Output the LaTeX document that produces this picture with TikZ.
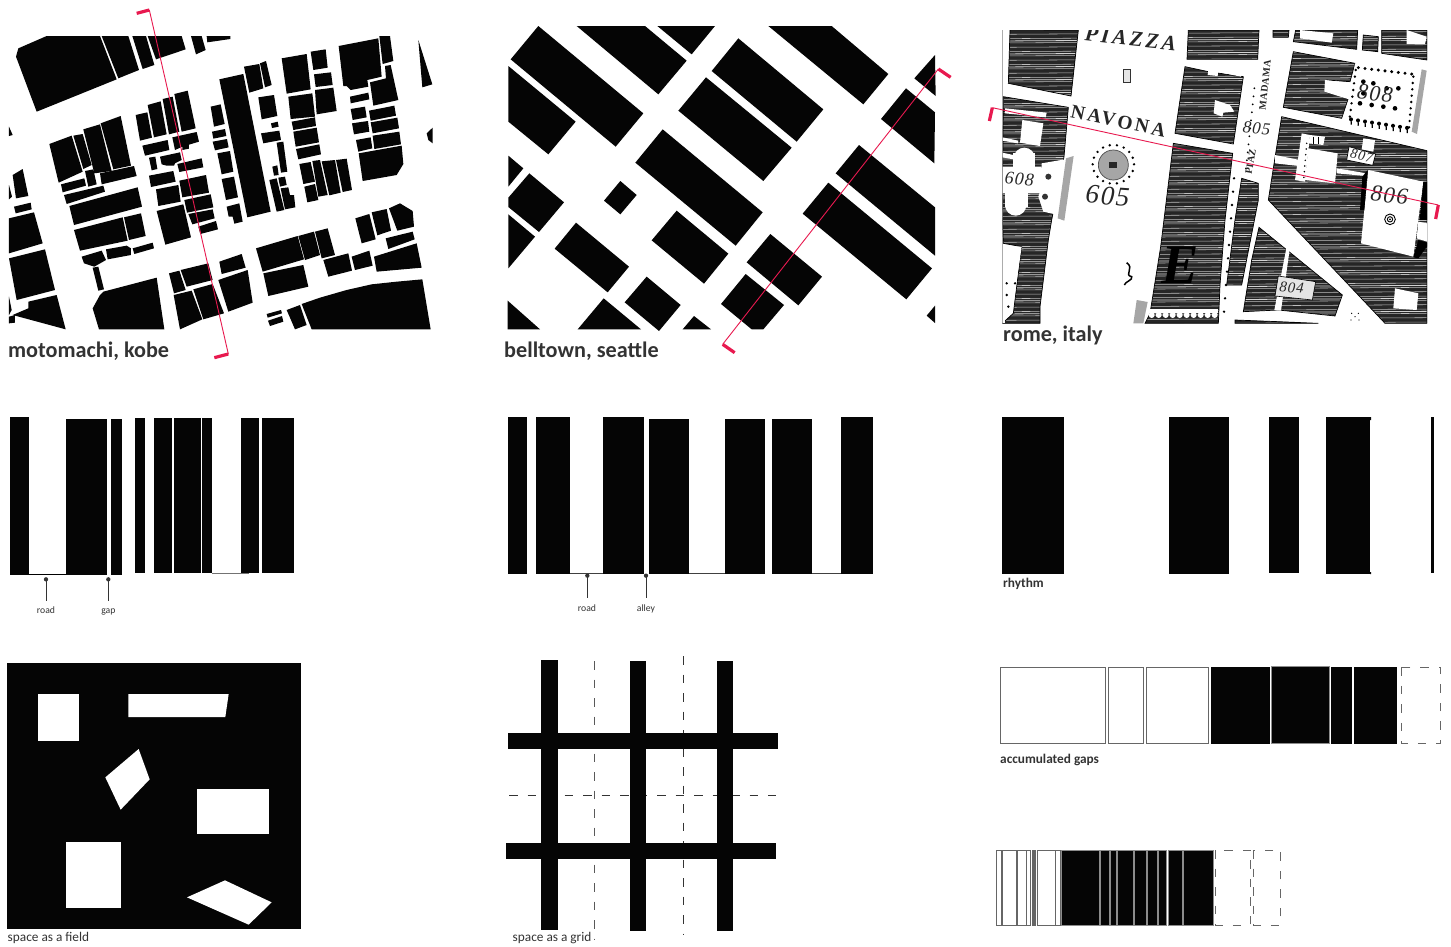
\documentclass[tikz,border=0pt]{standalone}
\usepackage{fontspec}
\setmainfont{Carlito}
\newfontfamily\mapfont[LetterSpace=14]{Liberation Serif}
\newfontfamily\mapnum[LetterSpace=6]{Liberation Serif}
\newfontfamily\mapplain{Liberation Serif}
\definecolor{blk}{HTML}{050505}
\definecolor{redline}{HTML}{E8194F}
\definecolor{labelgrey}{HTML}{333333}
\definecolor{mapdark}{HTML}{262626}
\newcommand\pg[1]{\fill[blk] plot coordinates {#1} -- cycle;}
\newcommand\wg[1]{\fill[white] plot coordinates {#1} -- cycle;}
\tikzset{
  titletext/.style={anchor=base west,font=\fontsize{22.2}{24}\selectfont\bfseries,text=labelgrey,inner sep=0pt},
  captext/.style={anchor=base west,font=\fontsize{13.3}{15}\selectfont,text=labelgrey,inner sep=0pt},
  capbold/.style={anchor=base west,font=\fontsize{13.3}{15}\selectfont\bfseries,text=labelgrey,inner sep=0pt},
  tinytext/.style={anchor=base,font=\fontsize{9.7}{11}\selectfont,text=labelgrey,inner sep=0pt},
  zoomA/.style={x=0.33333pt,y=-0.33333pt},
  secline/.style={draw=redline,line width=0.9pt},
  sectick/.style={draw=redline,line width=3.2pt},
  stemline/.style={draw=labelgrey,line width=0.8pt},
  gapbox/.style={draw=black!60,line width=1pt,fill=white},
  blackbar/.style={fill=blk,draw=black!45,line width=0.5pt},
  dashbox/.style={draw=black!60,line width=0.9pt,dash pattern=on 8.5pt off 10pt},
  griddash/.style={draw=black!65,line width=0.9pt,dash pattern=on 8.7pt off 9.8pt},
  maptext/.style={inner sep=0pt,text=black!85},
}
\begin{document}
\begin{tikzpicture}[x=1pt,y=-1pt]
\useasboundingbox (0,0) rectangle (1451,946);
\fill[white] (0,0) rectangle (1451,946);

% ---------- motomachi
\begin{scope}[shift={(0,0)},zoomA]
\pg{(140,108)(300,108)(350,238)(110,335)(48,170)(55,145)}
\pg{(305,108)(385,108)(417,210)(355,235)}
\pg{(397,108)(438,108)(463,195)(428,207)}
\pg{(443,108)(545,108)(557,148)(468,178)}
\pg{(573,108)(605,108)(617,150)(588,163)}
\pg{(620,108)(691,108)(691,117)(622,127)}
\pg{(1255,120)(1297,253)(1267,262)}
\pg{(1298,383)(1280,400)(1285,420)(1298,430)}
\pg{(27,380)(38,405)(27,408)}
\pg{(845,175)(920,162)(932,268)(860,281)}
\pg{(932,155)(977,148)(983,203)(940,210)}
\pg{(942,223)(993,217)(998,255)(947,261)}
\pg{(945,270)(1000,263)(1010,333)(950,343)}
\pg{(865,290)(937,280)(945,350)(872,357)}
\pg{(875,365)(945,352)(948,378)(880,390)}
\pg{(880,395)(950,383)(957,427)(887,440)}
\pg{(888,447)(958,433)(963,463)(895,478)}
\pg{(1016,138)(1135,115)(1145,230)(1102,240)(1105,260)(1052,270)(1040,258)(1030,258)}
\pg{(1138,108)(1170,108)(1180,183)(1148,192)}
\pg{(1155,198)(1172,195)(1195,300)(1120,317)(1110,247)(1158,235)}
\pg{(1050,290)(1105,278)(1108,298)(1052,310)}
\pg{(1052,327)(1095,320)(1100,352)(1058,360)}
\pg{(1107,332)(1183,317)(1188,347)(1112,362)}
\pg{(1056,370)(1104,363)(1108,395)(1062,403)}
\pg{(1112,367)(1192,353)(1197,385)(1118,400)}
\pg{(1068,420)(1112,412)(1117,445)(1075,455)}
\pg{(1118,407)(1198,395)(1203,433)(1123,447)}
\pg{(1076,460)(1205,437)(1210,492)(1190,525)(1088,543)}
\pg{(658,238)(730,222)(812,635)(742,652)}
\pg{(732,200)(778,192)(790,265)(748,278)}
\pg{(780,190)(798,183)(815,255)(795,262)}
\pg{(775,292)(822,285)(832,348)(785,358)}
\pg{(813,370)(833,365)(836,380)(816,384)}
\pg{(783,400)(838,392)(843,420)(790,430)}
\pg{(830,428)(850,425)(862,515)(843,518)}
\pg{(817,500)(832,496)(836,525)(822,527)}
\pg{(808,540)(830,535)(853,630)(830,635)}
\pg{(835,533)(855,530)(860,555)(840,560)}
\pg{(842,565)(865,562)(870,585)(882,585)(886,622)(855,628)}
\pg{(898,492)(932,486)(945,545)(910,552)}
\pg{(937,483)(960,480)(983,585)(955,590)}
\pg{(965,484)(1005,480)(1022,578)(988,586)}
\pg{(1008,480)(1040,476)(1056,570)(1028,576)}
\pg{(913,560)(945,552)(955,600)(922,607)}
\pg{(632,320)(662,313)(674,372)(642,380)}
\pg{(636,395)(675,387)(679,408)(640,416)}
\pg{(638,425)(681,417)(686,442)(645,451)}
\pg{(652,460)(690,453)(700,515)(665,523)}
\pg{(665,537)(702,530)(714,592)(678,600)}
\pg{(680,620)(718,610)(728,665)(703,671)(698,650)(686,650)}
\pg{(407,345)(442,337)(456,413)(420,422)}
\pg{(443,315)(482,304)(500,403)(462,412)}
\pg{(488,297)(518,290)(538,395)(507,403)}
\pg{(523,282)(563,272)(587,385)(545,395)}
\pg{(517,412)(590,396)(597,425)(567,434)(567,446)(547,450)(547,440)(525,450)}
\pg{(427,437)(503,420)(508,450)(435,467)}
\pg{(447,473)(466,470)(472,507)(455,511)}
\pg{(480,470)(540,457)(545,480)(525,490)(522,497)(500,497)(485,493)}
\pg{(532,492)(605,475)(610,502)(538,516)}
\pg{(447,527)(520,513)(527,545)(453,561)}
\pg{(468,568)(535,555)(542,605)(475,618)}
\pg{(538,542)(618,525)(627,578)(547,592)}
\pg{(553,600)(632,583)(640,622)(561,638)}
\pg{(565,642)(638,628)(644,655)(577,673)}
\pg{(595,680)(648,663)(654,688)(601,702)}
\pg{(470,633)(550,613)(573,712)(496,734)}
\pg{(148,432)(215,407)(248,515)(176,548)}
\pg{(220,407)(248,402)(275,495)(250,507)}
\pg{(250,388)(300,373)(335,513)(283,520)}
\pg{(302,370)(362,348)(393,497)(340,508)}
\pg{(255,513)(280,508)(290,553)(265,560)}
\pg{(300,520)(402,498)(410,528)(305,553)}
\pg{(183,553)(253,535)(258,557)(188,577)}
\pg{(192,585)(310,557)(315,575)(200,612)}
\pg{(208,618)(413,562)(426,620)(222,675)}
\pg{(222,690)(368,652)(383,722)(240,752)}
\pg{(372,652)(423,640)(437,708)(387,720)}
\pg{(245,770)(305,752)(318,780)(283,800)(252,790)}
\pg{(318,748)(380,737)(393,745)(393,765)(323,778)}
\pg{(398,745)(458,728)(462,745)(403,762)}
\pg{(278,803)(295,800)(312,868)(295,872)}
\pg{(38,525)(68,507)(85,588)(48,595)}
\pg{(27,555)(36,590)(27,598)}
\pg{(42,620)(92,608)(95,628)(47,640)}
\pg{(27,655)(102,637)(128,730)(27,760)}
\pg{(27,775)(135,748)(165,870)(50,900)}
\pg{(85,905)(170,885)(197,988)(38,945)(85,925)}
\pg{(27,890)(35,930)(27,945)}
\pg{(27,950)(45,945)(45,968)(27,970)}
\pg{(310,875)(470,833)(493,988)(297,988)(278,925)(300,885)}
\pg{(507,820)(538,812)(557,870)(522,880)}
\pg{(542,810)(625,790)(638,840)(560,860)}
\pg{(521,885)(575,872)(607,958)(540,988)}
\pg{(580,868)(638,852)(672,940)(610,958)}
\pg{(658,785)(725,762)(737,803)(665,822)}
\pg{(655,840)(743,810)(758,908)(685,935)}
\pg{(768,745)(893,708)(912,778)(788,815)}
\pg{(895,708)(942,695)(960,765)(915,780)}
\pg{(945,695)(983,685)(1005,765)(965,775)}
\pg{(790,820)(910,795)(925,860)(805,888)}
\pg{(970,780)(1045,760)(1056,812)(985,830)}
\pg{(1055,770)(1108,752)(1118,797)(1065,810)}
\pg{(1066,655)(1108,642)(1127,718)(1085,730)}
\pg{(1115,637)(1160,627)(1173,692)(1132,706)}
\pg{(1167,625)(1200,610)(1238,633)(1242,680)(1192,692)}
\pg{(1157,715)(1238,695)(1244,718)(1165,747)}
\pg{(1122,770)(1250,730)(1265,803)(1130,815)}
\pg{(800,942)(843,930)(846,940)(803,953)}
\pg{(804,962)(846,948)(850,965)(810,978)}
\pg{(860,930)(900,915)(920,975)(885,988)}
\pg{(905,912)(960,893)(1040,870)(1115,853)(1190,845)(1267,838)(1292,988)(935,988)}
\coordinate (mtop) at (448,30);
\coordinate (mbot) at (685,1062);
\coordinate (mtopt) at (410,40);
\coordinate (mbott) at (643,1073);
\draw[secline] (mtop) -- (mbot);
\draw[sectick] (mtopt) -- (mtop);
\draw[sectick] (mbott) -- (mbot);
\end{scope}
\node[titletext] (tmoto) at (8,357) {motomachi, kobe};

% ---------- belltown
\begin{scope}[shift={(495,15)},zoomA]
\pg{(130,33)(445,295)(362,395)(47,133)}
\pg{(245,33)(450,33)(575,137)(490,238)}
\pg{(487,33)(660,33)(590,118)}
\pg{(40,153)(242,320)(160,418)(40,320)}
\pg{(730,70)(985,283)(905,380)(650,168)}
\pg{(633,187)(890,398)(805,498)(550,287)}
\pg{(820,33)(1010,33)(1180,177)(1105,268)}
\pg{(1320,120)(1322,243)(1258,190)}
\pg{(1233,220)(1320,292)(1318,445)(1158,312)}
\pg{(503,343)(803,592)(722,692)(421,443)}
\pg{(1092,390)(1320,577)(1320,722)(1022,475)}
\pg{(1000,503)(1311,760)(1234,853)(923,596)}
\pg{(40,422)(85,460)(40,515)}
\pg{(103,475)(207,562)(132,651)(40,576)(40,548)}
\pg{(40,598)(120,665)(40,760)}
\pg{(376,498)(425,540)(376,598)(327,557)}
\pg{(545,587)(700,716)(627,806)(470,676)}
\pg{(243,623)(402,755)(338,832)(179,701)}
\pg{(826,657)(981,785)(910,871)(755,742)}
\pg{(455,785)(557,870)(492,948)(389,862)}
\pg{(752,777)(867,870)(805,943)(770,943)(678,867)}
\pg{(38,857)(135,943)(38,943)}
\pg{(326,850)(438,943)(248,943)}
\pg{(597,903)(648,943)(563,943)}
\pg{(1320,872)(1320,924)(1295,902)}
\coordinate (btop) at (1330,162);
\coordinate (bbot) at (683,988);
\coordinate (btopt) at (1367,187);
\coordinate (bbott) at (719,1013);
\draw[secline] (btop) -- (bbot);
\draw[sectick] (btopt) -- (btop);
\draw[sectick] (bbott) -- (bbot);
\end{scope}
\node[titletext] (tbell) at (504,357) {belltown, seattle};

% ---------- rome map
\begin{scope}[shift={(985,20)},zoomA]
\begin{scope}
\clip (52,30) rectangle (1326,910);
\def\darkregions{
 (75,30)--(280,30)--(258,228)--(70,190)--cycle
 (55,230)--(250,262)--(237,410)--(200,600)--(190,660)--(165,860)--(165,910)--(52,910)--(85,880)--(110,680)--(55,670)--(52,590)--cycle
 (610,30)--(822,30)--(818,118)--(606,118)--cycle
 (600,140)--(670,155)--(775,170)--(745,372)--(570,340)--cycle
 (565,370)--(743,400)--(720,600)--(705,795)--(700,910)--(480,910)--(495,880)--(527,680)--cycle
 (770,475)--(820,490)--(820,540)--(770,795)--(725,795)--(750,600)--cycle
 (925,95)--(1110,130)--(1095,185)--(1025,180)--(1020,215)--(1090,235)--(1070,295)--(895,262)--cycle
 (932,30)--(1118,30)--(1115,88)--(925,65)--cycle
 (1135,45)--(1180,50)--(1178,95)--(1132,90)--cycle
 (1190,30)--(1326,30)--(1326,120)--(1190,100)--cycle
 (864,30)--(912,30)--(910,52)--(864,52)--cycle
 (890,290)--(1326,392)--(1326,910)--(1200,910)--(850,540)--(872,400)--cycle
 (822,622)--(1072,825)--(1050,888)--(880,870)--(775,875)--(800,720)--cycle
 (750,900)--(880,905)--(1000,910)--(750,910)--cycle
}
\fill[mapdark] \darkregions;
\begin{scope}
\clip \darkregions;
\foreach \y in {26,39,...,920} \draw[white,line width=0.55pt,opacity=.7] (40,\y+4) -- (1340,\y-4);
\foreach \y in {59,98,...,920} \draw[white,line width=0.8pt,opacity=.8] (40,\y+4) -- (1340,\y-4);
\end{scope}
\draw[black,line width=0.7pt] \darkregions;
% white overlays
\wg{(945,30)(1045,40)(1040,68)(945,55)}
\wg{(1265,30)(1325,50)(1320,72)(1265,72)}
\wg{(600,122)(670,135)(770,160)(768,170)(670,150)(600,135)}
\wg{(672,128)(702,130)(698,168)(668,165)}
\wg{(690,240)(735,255)(748,275)(715,278)(712,290)(686,280)}
\wg{(60,265)(185,278)(182,292)(60,280)}
\wg{(112,300)(175,310)(165,378)(105,368)}
\wg{(52,352)(100,362)(98,370)(52,362)}
\wg{(52,398)(85,405)(85,418)(52,412)}
\fill[white] (118,415) circle[radius=32] (92,555) circle[radius=32];
\wg{(52,440)(170,440)(175,520)(52,520)}
\wg{(85,400)(150,400)(150,450)(85,450)}
\wg{(60,510)(130,510)(130,560)(60,560)}
\wg{(170,430)(240,418)(220,585)(175,575)(160,530)(170,500)}
\fill[black!80] (190,470) circle[radius=9] (180,530) circle[radius=9];
\fill[black!35] (243,415) -- (266,408) -- (238,602) -- (218,595) -- cycle;
\wg{(52,680)(110,680)(85,850)(52,850)}
\wg{(52,880)(60,880)(60,910)(52,910)}
\wg{(1110,130)(1295,155)(1270,335)(1085,305)}
\wg{(1020,180)(1100,190)(1092,238)(1018,215)}
\fill[black!35] (1310,148) -- (1325,152) -- (1296,342) -- (1280,335) -- cycle;
\foreach \i in {0,...,8} \fill[black] ({1098+\i*21},{298+\i*3.2}) circle[radius=6];
\foreach \i in {0,...,8} \draw[black,line width=1.2pt] ({1098+\i*21},{298+\i*3.2}) -- +(1,16);
\foreach \i in {0,...,8} \fill[black] ({1120+\i*20},{143+\i*2.4}) circle[radius=5];
\foreach \i in {0,...,8} \fill[black] ({1285-\i*1.6},{170+\i*19}) circle[radius=4];
\foreach \i in {0,...,7} \fill[black] ({1112-\i*2.5},{150+\i*20}) circle[radius=4];
\foreach \p in {(1135,185),(1165,190),(1205,205),(1240,205),(1125,250),(1160,255),(1195,260),(1230,265),(1135,220)}
  \fill[black] \p circle[radius=7];
\wg{(970,385)(1058,400)(1050,490)(960,480)}
\wg{(950,340)(975,345)(960,485)(930,480)}
\foreach \i in {0,...,6} \fill[black] ({965-\i*1.4+0},{370+\i*17}) circle[radius=2.5];
\wg{(975,345)(1020,350)(1015,375)(970,370)}
\draw[black,line width=0.6pt] (985,350) -- (985,372) (1000,350) -- (1000,372);
\wg{(870,405)(945,420)(942,438)(870,430)}
\wg{(1055,445)(1145,460)(1142,468)(1055,460)}
\wg{(1135,355)(1170,360)(1165,395)(1130,388)}
\wg{(1150,450)(1315,485)(1285,710)(1128,670)}
\fill[black] (1132,470) -- (1148,450) -- (1138,570) -- (1125,570) -- cycle;
\fill[black] (1315,485) -- (1326,485) -- (1326,600) -- (1304,600) -- cycle;
\wg{(1300,605)(1326,610)(1326,665)(1295,655)}
\fill[black] (1285,712) -- (1300,660) -- (1326,668) -- (1326,680) -- (1300,715) -- cycle;
\draw[black,line width=0.9pt,fill=white] (1215,598) circle[radius=16];
\draw[black,line width=0.9pt,fill=white] (1215,598) circle[radius=8];
\fill[black] (1215,598) circle[radius=3];
\wg{(1230,805)(1300,820)(1295,870)(1225,865)}
\wg{(905,680)(915,682)(888,872)(868,870)}
\draw[black,line width=0.6pt,fill=white!90!black] (880,768) -- (992,785) -- (982,840) -- (870,828) -- cycle;
\fill[white] (480,880) -- (700,880) -- (700,868) -- (480,868) -- cycle;
\foreach \i in {0,...,9} \fill[white] ({500+\i*21},885) circle[radius=9];
\fill[black!35] (455,840) -- (488,846) -- (475,910) -- (445,910) -- cycle;
\foreach \i in {0,...,10} \fill[black] ({747-\i*3},{475+\i*40}) circle[radius=4];
\foreach \i in {0,...,10} \fill[black] ({808-\i*2.5},{205+\i*24}) circle[radius=3];
% piazza ornaments
\draw[black!80,line width=0.8pt,fill=black!10] (415,147) rectangle (437,187);
\draw[black!70,line width=0.7pt,fill=black!35] (385,435) circle[radius=45];
\fill[black!85] (373,425) rectangle (397,445);
\foreach \a in {0,20,...,340} \fill[black] ({385+62*cos(\a)},{433+58*sin(\a)}) circle[radius=4];
\draw[black,line width=1.5pt] (425,728) .. controls (450,745) and (415,765) .. (440,770) .. controls (445,780) and (420,785) .. (418,795);
\foreach \p in {(1100,880),(1120,880),(1110,890),(1098,900),(1122,900)} \fill[black] \p circle[radius=2];
\foreach \p in {(65,790),(90,790),(65,825),(70,860)} \fill[black] \p circle[radius=4];
% map lettering
\node[maptext,rotate=-6,font=\mapfont\bfseries\itshape\fontsize{21.5}{23}\selectfont] (mpiazza) at (437,56) {PIAZZA};
\node[maptext,rotate=-12,font=\mapfont\bfseries\fontsize{19.5}{21}\selectfont] (mnavona) at (400,303) {NAVONA};
\node[maptext,rotate=-4,font=\mapnum\itshape\fontsize{27}{28}\selectfont] (m605) at (368,527) {605};
\node[maptext,rotate=-5,font=\mapnum\itshape\fontsize{18}{20}\selectfont] (m608) at (103,478) {608};
\node[maptext,rotate=-5,font=\mapnum\itshape\fontsize{22}{24}\selectfont] (m808) at (1170,220) {808};
\node[maptext,rotate=-5,font=\mapnum\itshape\fontsize{23}{25}\selectfont] (m806) at (1213,525) {806};
\draw[black,line width=0.7pt,fill=white] (1092,380) -- (1172,402) -- (1163,436) -- (1085,420) -- cycle;
\node[maptext,rotate=-12,font=\mapnum\itshape\fontsize{14}{15}\selectfont] (m807) at (1130,407) {807};
\node[maptext,rotate=-5,font=\mapnum\itshape\fontsize{15}{16}\selectfont] (m804) at (920,803) {804};
\node[maptext,rotate=-5,font=\mapnum\itshape\fontsize{17}{18}\selectfont] (m805) at (815,325) {805};
\node[maptext,rotate=84,font=\mapnum\bfseries\fontsize{10}{11}\selectfont] (mmadama) at (840,195) {MADAMA};
\node[maptext,rotate=80,font=\mapnum\bfseries\fontsize{10}{11}\selectfont] (mpiaz) at (797,425) {PIAZ};
\node[maptext,text=black,font=\mapplain\bfseries\itshape\fontsize{56}{58}\selectfont] (mE) at (585,735) {E};
\draw[black!50,line width=0.8pt] (52,30) -- (52,910);
\end{scope}
\coordinate (rleft) at (22,263);
\coordinate (rright) at (1360,555);
\coordinate (rleftt) at (13,303);
\coordinate (rrightt) at (1352,597);
\draw[secline] (rleft) -- (rright);
\draw[sectick] (rleftt) -- (rleft);
\draw[sectick] (rrightt) -- (rright);
\end{scope}
\node[titletext] (trome) at (1003,341) {rome, italy};

% ---------- bars 1
\begin{scope}[shift={(0,410)},zoomA]
\fill[blk] (30,21) rectangle (87,495);
\fill[blk] (198,27) rectangle (321,495);
\fill[blk] (333,27) rectangle (366,495);
\foreach \a/\b in {405/435,462/516,522/603,606/636,723/777,786/882} \fill[blk] (\a,24) rectangle (\b,489);
\draw[black,line width=0.8pt] (87,492.5) -- (198,492.5);
\draw[black!55,line width=0.9pt] (636,489) -- (747,489);
\node[tinytext] (lroad1) at (138,611) {road};
\node[tinytext] (lgap) at (325,611) {gap};
\coordinate (p1) at (138,508); \coordinate (p1e) at (138,573);
\coordinate (p2) at (325,508); \coordinate (p2e) at (325,573);
\draw[stemline] (p1) -- (p1e); \draw[stemline] (p2) -- (p2e);
\fill[labelgrey] (p1) circle[radius=6.5] (p2) circle[radius=6.5];
\end{scope}

% ---------- bars 2
\begin{scope}[shift={(500,410)},zoomA]
\foreach \a/\b in {24/81,108/210,309/432} \fill[blk] (\a,21) rectangle (\b,492);
\foreach \a/\b in {447/567,675/795,816/936} \fill[blk] (\a,27) rectangle (\b,492);
\fill[blk] (1023,21) rectangle (1119,492);
\draw[black!75,line width=0.7pt] (210,489.5) -- (309,489.5) (567,489.5) -- (675,489.5) (936,489.5) -- (1023,489.5);
\node[tinytext] (lroad2) at (261,603) {road};
\node[tinytext] (lalley) at (438,603) {alley};
\coordinate (q1) at (262,497); \coordinate (q1e) at (262,564);
\coordinate (q2) at (438,497); \coordinate (q2e) at (438,564);
\draw[stemline] (q1) -- (q1e); \draw[stemline] (q2) -- (q2e);
\fill[labelgrey] (q1) circle[radius=6.5] (q2) circle[radius=6.5];
\end{scope}

% ---------- rhythm
\begin{scope}[shift={(990,410)},zoomA]
\fill[blk] (36,21) rectangle (222,492);
\fill[blk] (537,21) rectangle (717,492);
\fill[blk] (837,21) rectangle (927,489);
\fill[blk] (1008,21) rectangle (1140,492);
\fill[blk] (1140,21) rectangle (1143,30) (1140,486) rectangle (1143,492);
\fill[blk] (1323,21) rectangle (1332,489);
\end{scope}
\node[capbold] (trhythm) at (1003,587) {rhythm};

% ---------- field
\begin{scope}[shift={(0,655)},zoomA]
\fill[blk] (21,24) rectangle (903,822);
\fill[white] (114,117) rectangle (237,258);
\wg{(385,117)(686,117)(676,186)(385,186)}
\wg{(416,282)(449,373)(362,464)(316,367)}
\fill[white] (591,402) rectangle (807,537);
\fill[white] (198,561) rectangle (363,759);
\wg{(561,727)(675,676)(815,742)(746,809)}
\end{scope}
\node[captext] (tfield) at (7.5,941) {space as a field};

% ---------- grid
\begin{scope}[shift={(500,650)},zoomA]
\draw[griddash] (282,33) -- (282,868);
\draw[griddash,draw=black!80] (549,18) -- (549,856);
\draw[griddash,draw=black!80] (27,436) -- (828,436);
\fill[blk] (123,30) rectangle (174,840);
\fill[blk] (390,33) rectangle (438,843);
\fill[blk] (651,33) rectangle (699,843);
\fill[blk] (24,249) rectangle (834,297);
\fill[blk] (18,579) rectangle (828,627);
\end{scope}
\node[captext] (tgrid) at (512.5,941) {space as a grid};

% ---------- accumulated gaps
\begin{scope}[shift={(990,655)},zoomA]
\foreach \a/\b in {31/345,355/461,469/655} \draw[gapbox] (\a,37) rectangle (\b,266);
\fill[blk] (663,37) rectangle (840,266);
\draw[blackbar] (843,35) rectangle (1019,266);
\fill[blk] (1022,37) rectangle (1086,266);
\fill[blk] (1091,37) rectangle (1221,266);
\draw[dashbox] (1235,37) rectangle (1352,266);
\end{scope}
\node[capbold] (tacc) at (1000,763) {accumulated gaps};

% ---------- gaps second row
\begin{scope}[shift={(990,840)},zoomA]
\foreach \a/\b in {19/34,36/80,82/108,110/122,127/130,133/136,141/196,197/210} \draw[gapbox] (\a,30) rectangle (\b,255);
\foreach \a/\b in {213/328,330/357,360/379,382/431,434/469,472/502,505/530,534/578,581/670} \draw[blackbar] (\a,30) rectangle (\b,255);
\draw[dashbox] (676,30) rectangle (782,255);
\draw[dashbox] (790,30) rectangle (872,255);
\end{scope}
\end{tikzpicture}
\end{document}
